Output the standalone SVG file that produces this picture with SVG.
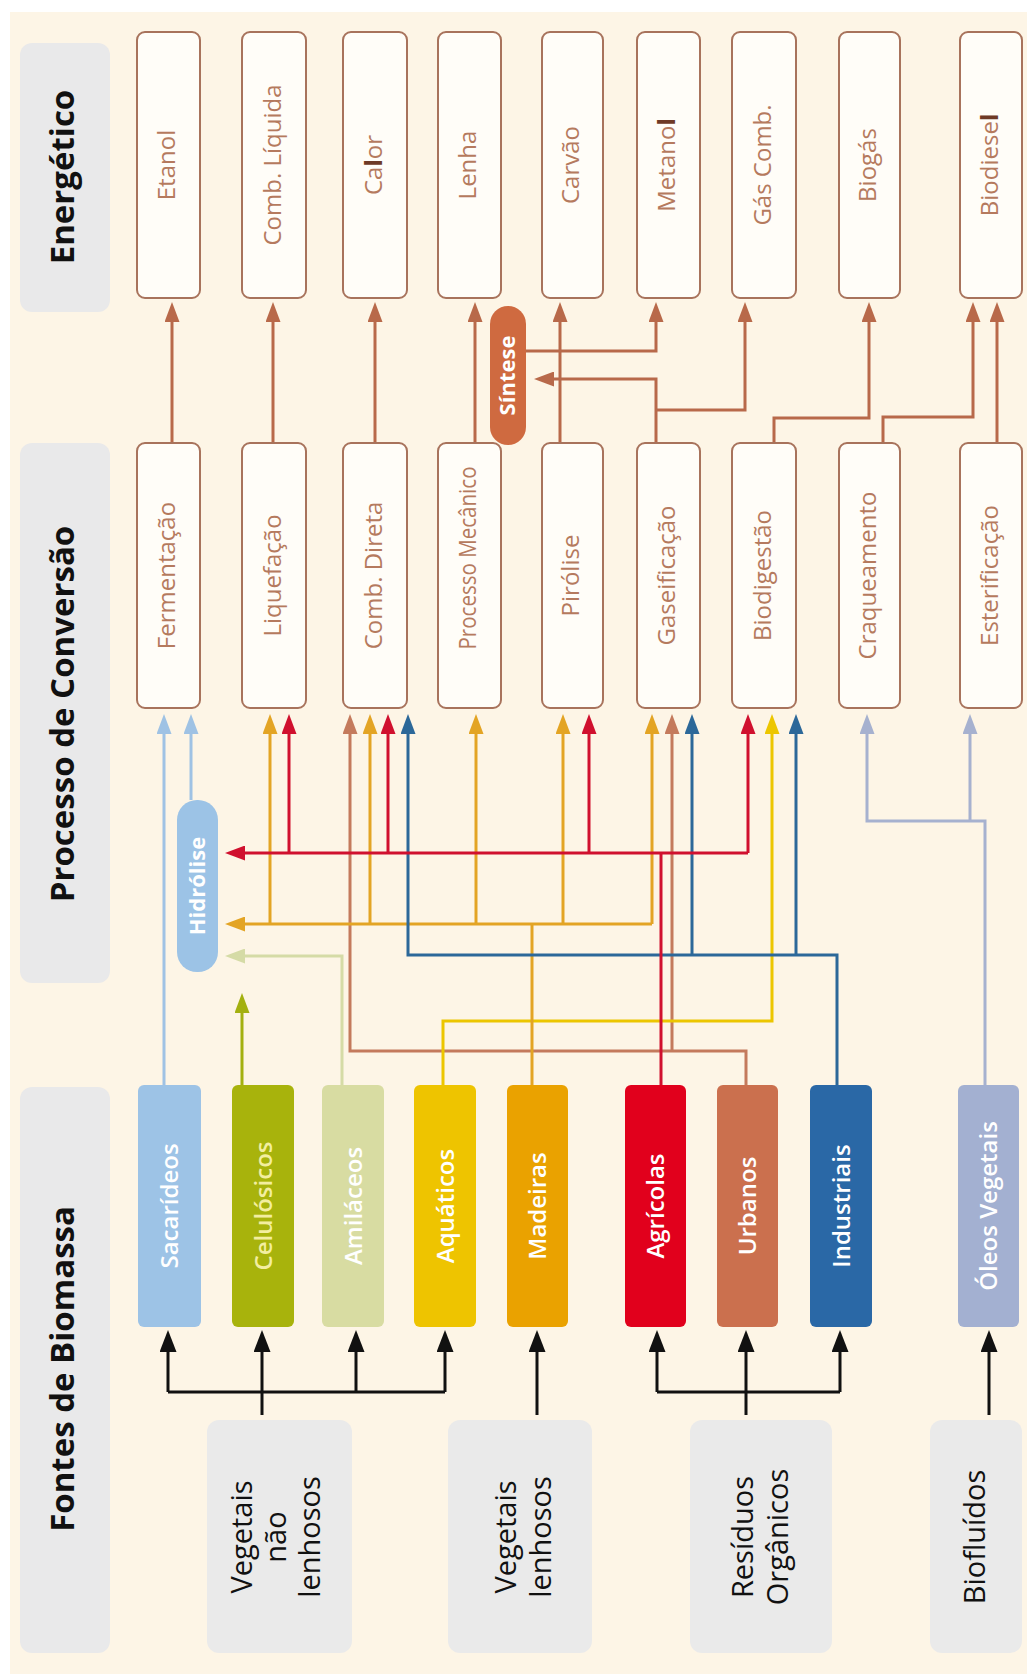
<svg xmlns="http://www.w3.org/2000/svg" width="1027" height="1674" viewBox="0 0 1027 1674">
<style>
.hdr{fill:#e9e9ea}
.hdrt{font-family:'Open Sans','Noto Sans',sans-serif;font-weight:bold;font-size:33px;fill:#111;text-anchor:middle}
.box{fill:#fffdf8;stroke:#a8735c;stroke-width:2}
.nt{font-family:'Open Sans','Noto Sans',sans-serif;font-size:24px;fill:#b57a5e;text-anchor:middle}
.st{font-family:'Open Sans','Noto Sans',sans-serif;font-size:24px;font-weight:600;fill:#ffffff;text-anchor:middle}
.grp{fill:#eaeaea}
.gt{font-family:'Open Sans','Noto Sans',sans-serif;font-size:29px;fill:#111;text-anchor:middle}
.pill{font-family:'Open Sans','Noto Sans',sans-serif;font-size:22px;font-weight:bold;fill:#fff;text-anchor:middle}
.ln{fill:none;stroke-width:3}
.dk{fill:#6e3a26;font-weight:bold}
</style>
<defs>
<marker id="m-brown" viewBox="0 0 20 15" markerWidth="20" markerHeight="15" refX="8" refY="7.5" orient="auto" markerUnits="userSpaceOnUse"><path d="M0,0 L20,7.5 L0,15 z" fill="#b8694a"/></marker>
<marker id="m-black" viewBox="0 0 22 17" markerWidth="22" markerHeight="17" refX="9" refY="8.5" orient="auto" markerUnits="userSpaceOnUse"><path d="M0,0 L22,8.5 L0,17 z" fill="#111"/></marker>
<marker id="m-ltblue" viewBox="0 0 20 15" markerWidth="20" markerHeight="15" refX="8" refY="7.5" orient="auto" markerUnits="userSpaceOnUse"><path d="M0,0 L20,7.5 L0,15 z" fill="#9fc2e4"/></marker>
<marker id="m-olive" viewBox="0 0 20 15" markerWidth="20" markerHeight="15" refX="8" refY="7.5" orient="auto" markerUnits="userSpaceOnUse"><path d="M0,0 L20,7.5 L0,15 z" fill="#a3b010"/></marker>
<marker id="m-pale" viewBox="0 0 20 15" markerWidth="20" markerHeight="15" refX="8" refY="7.5" orient="auto" markerUnits="userSpaceOnUse"><path d="M0,0 L20,7.5 L0,15 z" fill="#d5dba6"/></marker>
<marker id="m-red" viewBox="0 0 20 15" markerWidth="20" markerHeight="15" refX="8" refY="7.5" orient="auto" markerUnits="userSpaceOnUse"><path d="M0,0 L20,7.5 L0,15 z" fill="#d0102e"/></marker>
<marker id="m-orange" viewBox="0 0 20 15" markerWidth="20" markerHeight="15" refX="8" refY="7.5" orient="auto" markerUnits="userSpaceOnUse"><path d="M0,0 L20,7.5 L0,15 z" fill="#e3a424"/></marker>
<marker id="m-blue" viewBox="0 0 20 15" markerWidth="20" markerHeight="15" refX="8" refY="7.5" orient="auto" markerUnits="userSpaceOnUse"><path d="M0,0 L20,7.5 L0,15 z" fill="#2c6899"/></marker>
<marker id="m-yellow" viewBox="0 0 20 15" markerWidth="20" markerHeight="15" refX="8" refY="7.5" orient="auto" markerUnits="userSpaceOnUse"><path d="M0,0 L20,7.5 L0,15 z" fill="#ecc600"/></marker>
<marker id="m-urb" viewBox="0 0 20 15" markerWidth="20" markerHeight="15" refX="8" refY="7.5" orient="auto" markerUnits="userSpaceOnUse"><path d="M0,0 L20,7.5 L0,15 z" fill="#c47a5c"/></marker>
<marker id="m-grey" viewBox="0 0 20 15" markerWidth="20" markerHeight="15" refX="8" refY="7.5" orient="auto" markerUnits="userSpaceOnUse"><path d="M0,0 L20,7.5 L0,15 z" fill="#a6b1cf"/></marker>
</defs>

<rect x="0" y="0" width="1027" height="1674" fill="#ffffff"/>
<rect x="10" y="12" width="1017" height="1662" fill="#fdf5e6"/>

<!-- column headers -->
<g id="hdr-energetico"><rect class="hdr" x="20" y="43" width="90" height="269" rx="12"/><text class="hdrt" transform="translate(74,177) rotate(-90)">Energético</text></g>
<g id="hdr-processo"><rect class="hdr" x="20" y="443" width="90" height="540" rx="12"/><text class="hdrt" transform="translate(74,714) rotate(-90)">Processo de Conversão</text></g>
<g id="hdr-fontes"><rect class="hdr" x="20" y="1087" width="90" height="566" rx="12"/><text class="hdrt" transform="translate(74,1369) rotate(-90)">Fontes de Biomassa</text></g>

<!-- connectors -->
<g id="connectors">
 <!-- process to energy -->
 <g stroke="#b8694a" class="ln" fill="none" stroke-width="3">
  <path d="M172,443 V314" marker-end="url(#m-brown)"/>
  <path d="M273,443 V314" marker-end="url(#m-brown)"/>
  <path d="M375,443 V314" marker-end="url(#m-brown)"/>
  <path d="M475,443 V314" marker-end="url(#m-brown)"/>
  <path d="M560,443 V314" marker-end="url(#m-brown)"/>
  <path d="M656,443 V379 H546" marker-end="url(#m-brown)"/>
  <path d="M656,410 H745 V314" marker-end="url(#m-brown)"/>
  <path d="M526,351 H656 V314" marker-end="url(#m-brown)"/>
  <path d="M774,443 V418 H869 V314" marker-end="url(#m-brown)"/>
  <path d="M883,443 V417 H973 V314" marker-end="url(#m-brown)"/>
  <path d="M997,443 V314" marker-end="url(#m-brown)"/>
 </g>
 <!-- sources to processes -->
 <g class="ln" fill="none" stroke-width="3">
  <path stroke="#9fc2e4" d="M164,1085 V726" marker-end="url(#m-ltblue)"/>
  <path stroke="#9fc2e4" d="M191,800 V726" marker-end="url(#m-ltblue)"/>
  <path stroke="#a3b010" d="M242,1085 V1005" marker-end="url(#m-olive)"/>
  <path stroke="#d5dba6" d="M342,1085 V956 H237" marker-end="url(#m-pale)"/>
  <path stroke="#a6b1cf" d="M985,1085 V821 H867 V726" marker-end="url(#m-grey)"/>
  <path stroke="#a6b1cf" d="M970,821 V726" marker-end="url(#m-grey)"/>
  <path stroke="#c47a5c" d="M746,1085 V1051 H350 V726" marker-end="url(#m-urb)"/>
  <path stroke="#c47a5c" d="M672,1051 V726" marker-end="url(#m-urb)"/>
  <path stroke="#ecc600" d="M443,1085 V1021 H772 V726" marker-end="url(#m-yellow)"/>
  <path stroke="#e3a424" d="M532,1085 V924"/>
  <path stroke="#e3a424" d="M652,924 H237" marker-end="url(#m-orange)"/>
  <path stroke="#e3a424" d="M270,924 V726" marker-end="url(#m-orange)"/>
  <path stroke="#e3a424" d="M370,924 V726" marker-end="url(#m-orange)"/>
  <path stroke="#e3a424" d="M476,924 V726" marker-end="url(#m-orange)"/>
  <path stroke="#e3a424" d="M563,924 V726" marker-end="url(#m-orange)"/>
  <path stroke="#e3a424" d="M652,924 V726" marker-end="url(#m-orange)"/>
  <path stroke="#2c6899" d="M837,1085 V955 H408 V726" marker-end="url(#m-blue)"/>
  <path stroke="#2c6899" d="M692,955 V726" marker-end="url(#m-blue)"/>
  <path stroke="#2c6899" d="M796,955 V726" marker-end="url(#m-blue)"/>
  <path stroke="#d0102e" d="M661,1085 V853"/>
  <path stroke="#d0102e" d="M748,853 H237" marker-end="url(#m-red)"/>
  <path stroke="#d0102e" d="M289,853 V726" marker-end="url(#m-red)"/>
  <path stroke="#d0102e" d="M388,853 V726" marker-end="url(#m-red)"/>
  <path stroke="#d0102e" d="M589,853 V726" marker-end="url(#m-red)"/>
  <path stroke="#d0102e" d="M748,853 V726" marker-end="url(#m-red)"/>
 </g>
 <!-- groups to sources -->
 <g stroke="#111" class="ln" fill="none" stroke-width="3">
  <path d="M168,1392 H445"/>
  <path d="M168,1392 V1343" marker-end="url(#m-black)"/>
  <path d="M262,1415 V1343" marker-end="url(#m-black)"/>
  <path d="M356,1392 V1343" marker-end="url(#m-black)"/>
  <path d="M445,1392 V1343" marker-end="url(#m-black)"/>
  <path d="M537,1415 V1343" marker-end="url(#m-black)"/>
  <path d="M657,1392 H840"/>
  <path d="M657,1392 V1343" marker-end="url(#m-black)"/>
  <path d="M746,1415 V1343" marker-end="url(#m-black)"/>
  <path d="M840,1392 V1343" marker-end="url(#m-black)"/>
  <path d="M989,1415 V1343" marker-end="url(#m-black)"/>
 </g>
</g>

<!-- energy nodes -->
<g id="e-etanol"><rect class="box" x="137" y="32" width="63" height="266" rx="8"/><text class="nt" transform="translate(175,165) rotate(-90)">Etanol</text></g>
<g id="e-comb-liquida"><rect class="box" x="242" y="32" width="64" height="266" rx="8"/><text class="nt" transform="translate(280.5,165) rotate(-90)">Comb. Líquida</text></g>
<g id="e-calor"><rect class="box" x="343" y="32" width="64" height="266" rx="8"/><text class="nt" transform="translate(381.5,165) rotate(-90)">Ca<tspan class="dk">l</tspan>or</text></g>
<g id="e-lenha"><rect class="box" x="438" y="32" width="63" height="266" rx="8"/><text class="nt" transform="translate(476,165) rotate(-90)">Lenha</text></g>
<g id="e-carvao"><rect class="box" x="542" y="32" width="61" height="266" rx="8"/><text class="nt" transform="translate(579,165) rotate(-90)">Carvão</text></g>
<g id="e-metanol"><rect class="box" x="637" y="32" width="63" height="266" rx="8"/><text class="nt" transform="translate(675,165) rotate(-90)">Metano<tspan class="dk">l</tspan></text></g>
<g id="e-gas-comb"><rect class="box" x="732" y="32" width="64" height="266" rx="8"/><text class="nt" transform="translate(770.5,165) rotate(-90)">Gás Comb.</text></g>
<g id="e-biogas"><rect class="box" x="839" y="32" width="61" height="266" rx="8"/><text class="nt" transform="translate(876,165) rotate(-90)">Biogás</text></g>
<g id="e-biodiesel"><rect class="box" x="960" y="32" width="62" height="266" rx="8"/><text class="nt" transform="translate(997.5,165) rotate(-90)">Biodiese<tspan class="dk">l</tspan></text></g>

<!-- synthesis -->
<g id="sintese"><rect x="490" y="306" width="36" height="139" rx="18" fill="#cf6a40"/><text class="pill" transform="translate(515,375.5) rotate(-90)">Síntese</text></g>

<!-- process nodes -->
<g id="p-fermentacao"><rect class="box" x="137" y="443" width="63" height="265" rx="8"/><text class="nt" transform="translate(175,575.5) rotate(-90)">Fermentação</text></g>
<g id="p-liquefacao"><rect class="box" x="242" y="443" width="64" height="265" rx="8"/><text class="nt" transform="translate(280.5,575.5) rotate(-90)">Liquefação</text></g>
<g id="p-comb-direta"><rect class="box" x="343" y="443" width="64" height="265" rx="8"/><text class="nt" transform="translate(381.5,575.5) rotate(-90)">Comb. Direta</text></g>
<g id="p-processo-mecanico"><rect class="box" x="438" y="443" width="63" height="265" rx="8"/><text class="nt" transform="translate(476,558) rotate(-90)" textLength="183" lengthAdjust="spacingAndGlyphs">Processo Mecânico</text></g>
<g id="p-pirolise"><rect class="box" x="542" y="443" width="61" height="265" rx="8"/><text class="nt" transform="translate(579,575.5) rotate(-90)">Pirólise</text></g>
<g id="p-gaseificacao"><rect class="box" x="637" y="443" width="63" height="265" rx="8"/><text class="nt" transform="translate(675,575.5) rotate(-90)">Gaseificação</text></g>
<g id="p-biodigestao"><rect class="box" x="732" y="443" width="64" height="265" rx="8"/><text class="nt" transform="translate(770.5,575.5) rotate(-90)">Biodigestão</text></g>
<g id="p-craqueamento"><rect class="box" x="839" y="443" width="61" height="265" rx="8"/><text class="nt" transform="translate(876,575.5) rotate(-90)">Craqueamento</text></g>
<g id="p-esterificacao"><rect class="box" x="960" y="443" width="62" height="265" rx="8"/><text class="nt" transform="translate(997.5,575.5) rotate(-90)">Esterificação</text></g>

<!-- hydrolysis -->
<g id="hidrolise"><rect x="177" y="800" width="41" height="172" rx="20" fill="#9cc3e6"/><text class="pill" transform="translate(205,886) rotate(-90)">Hidrólise</text></g>

<!-- source nodes -->
<g id="s-sacarideos"><rect x="138" y="1085" width="63" height="242" rx="6" fill="#9dc3e6"/><text class="st" transform="translate(178,1206) rotate(-90)">Sacarídeos</text></g>
<g id="s-celulosicos"><rect x="232" y="1085" width="62" height="242" rx="6" fill="#a8b30c"/><text class="st" transform="translate(271.5,1206) rotate(-90)" fill="#f3eea0" style="fill:#f3eea0">Celulósicos</text></g>
<g id="s-amilaceos"><rect x="322" y="1085" width="62" height="242" rx="6" fill="#d8dca2"/><text class="st" transform="translate(361.5,1206) rotate(-90)">Amiláceos</text></g>
<g id="s-aquaticos"><rect x="414" y="1085" width="62" height="242" rx="6" fill="#eec400"/><text class="st" transform="translate(453.5,1206) rotate(-90)">Aquáticos</text></g>
<g id="s-madeiras"><rect x="507" y="1085" width="61" height="242" rx="6" fill="#eaa200"/><text class="st" transform="translate(546,1206) rotate(-90)">Madeiras</text></g>
<g id="s-agricolas"><rect x="625" y="1085" width="61" height="242" rx="6" fill="#e1001c"/><text class="st" transform="translate(664,1206) rotate(-90)">Agrícolas</text></g>
<g id="s-urbanos"><rect x="717" y="1085" width="61" height="242" rx="6" fill="#cb704e"/><text class="st" transform="translate(756,1206) rotate(-90)">Urbanos</text></g>
<g id="s-industriais"><rect x="810" y="1085" width="62" height="242" rx="6" fill="#2a68a6"/><text class="st" transform="translate(849.5,1206) rotate(-90)">Industriais</text></g>
<g id="s-oleos-vegetais"><rect x="958" y="1085" width="61" height="242" rx="6" fill="#a3b0d1"/><text class="st" transform="translate(997,1206) rotate(-90)">Óleos Vegetais</text></g>

<!-- group nodes -->
<g id="g-nao-lenhosos"><rect class="grp" x="207" y="1420" width="145" height="233" rx="12"/><text class="gt" transform="translate(252,1537) rotate(-90)">Vegetais</text><text class="gt" transform="translate(286,1537) rotate(-90)">não</text><text class="gt" transform="translate(320,1537) rotate(-90)">lenhosos</text></g>
<g id="g-lenhosos"><rect class="grp" x="448" y="1420" width="144" height="233" rx="12"/><text class="gt" transform="translate(516,1537) rotate(-90)">Vegetais</text><text class="gt" transform="translate(551,1537) rotate(-90)">lenhosos</text></g>
<g id="g-residuos"><rect class="grp" x="690" y="1420" width="142" height="233" rx="12"/><text class="gt" transform="translate(753,1537) rotate(-90)">Resíduos</text><text class="gt" transform="translate(788,1537) rotate(-90)">Orgânicos</text></g>
<g id="g-biofluidos"><rect class="grp" x="930" y="1420" width="92" height="233" rx="12"/><text class="gt" transform="translate(985,1537) rotate(-90)">Biofluídos</text></g>
</svg>
